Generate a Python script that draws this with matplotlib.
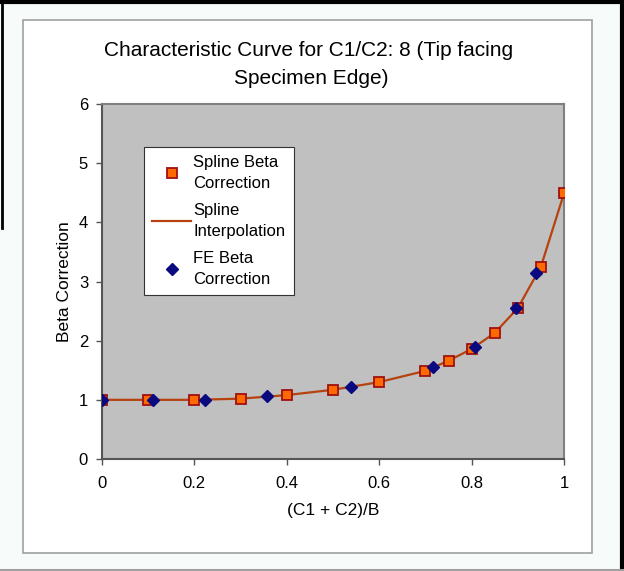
import matplotlib
matplotlib.use("Agg")
import matplotlib.pyplot as plt
from matplotlib.patches import Rectangle
from matplotlib.lines import Line2D

spline_x = [0, 0.1, 0.2, 0.3, 0.4, 0.5, 0.6, 0.7, 0.75, 0.8, 0.85, 0.9, 0.95, 1.0]
spline_y = [1.0, 1.0, 1.0, 1.02, 1.08, 1.17, 1.30, 1.49, 1.66, 1.86, 2.13, 2.55, 3.25, 4.49]
fe_x = [0, 0.11, 0.222, 0.358, 0.539, 0.717, 0.808, 0.897, 0.94]
fe_y = [1.0, 1.0, 1.0, 1.07, 1.21, 1.56, 1.90, 2.55, 3.14]
x_ticks = [0, 0.2, 0.4, 0.6, 0.8, 1]
x_tick_labels = ["0", "0.2", "0.4", "0.6", "0.8", "1"]
y_ticks = [0, 1, 2, 3, 4, 5, 6]

plt.rcParams['font.family'] = ['Liberation Sans', 'DejaVu Sans']

W, H = 624, 571
fig = plt.figure(figsize=(W / 100, H / 100), dpi=100)
fig.patch.set_facecolor('#F7FCFB')

# inner chart box
fig.patches.append(Rectangle((23 / W, 1 - 553 / H), (592 - 23) / W, (553 - 20) / H,
                             transform=fig.transFigure, facecolor='white',
                             edgecolor='#A0A0A0', linewidth=1.2, zorder=-5))
# outer frame
fig.lines.append(Line2D([0, 1], [1 - 1.5 / H, 1 - 1.5 / H], transform=fig.transFigure, color='black', lw=3))
fig.lines.append(Line2D([1 - 2 / W, 1 - 2 / W], [0, 1], transform=fig.transFigure, color='black', lw=3))
fig.lines.append(Line2D([1.5 / W, 1.5 / W], [0.6, 1], transform=fig.transFigure, color='black', lw=2))
fig.lines.append(Line2D([0, 1], [1 - 570 / H, 1 - 570 / H], transform=fig.transFigure, color='#A0A0A0', lw=1.5))

ax = fig.add_axes([102 / W, 1 - 459 / H, (564 - 102) / W, (459 - 104) / H])
ax.set_zorder(5)
ax.set_facecolor('#C0C0C0')

ax.plot(spline_x, spline_y, color='#B5420F', lw=1.6, zorder=2, label='Spline\nInterpolation')
ax.plot(spline_x, spline_y, ls='none', marker='s', markersize=7.5, markerfacecolor='#FF6A00',
        markeredgecolor='#A01010', markeredgewidth=1.3, zorder=3, label='Spline Beta\nCorrection')
ax.plot(fe_x, fe_y, ls='none', marker='D', markersize=6, markerfacecolor='#0A0A80',
        markeredgecolor='#0A0A80', zorder=4, label='FE Beta\nCorrection')

ax.set_xlim(0, 1)
ax.set_ylim(0, 6)
ax.set_xticks(x_ticks)
ax.set_xticklabels(x_tick_labels)
ax.set_yticks(y_ticks)
ax.tick_params(direction='out', length=4, width=1, color='#555555', labelsize=12)
ax.tick_params(axis='x', pad=8)
ax.tick_params(axis='y', pad=6)

for s in ['top', 'right']:
    ax.spines[s].set_color('#808080')
    ax.spines[s].set_linewidth(1.5)
for s in ['left', 'bottom']:
    ax.spines[s].set_color('#555555')
    ax.spines[s].set_linewidth(1.5)

ax.set_xlabel('(C1 + C2)/B', fontsize=12.5, labelpad=9)
ax.set_ylabel('Beta Correction', fontsize=12.5, labelpad=5)

fig.text(309 / W, 1 - 51 / H, 'Characteristic Curve for C1/C2: 8 (Tip facing',
         ha='center', va='center', fontsize=15)
fig.text(311 / W, 1 - 79 / H, 'Specimen Edge)', ha='center', va='center', fontsize=15)

handles, labels = ax.get_legend_handles_labels()
order = [1, 0, 2]
leg = ax.legend([handles[i] for i in order], [labels[i] for i in order],
                loc='upper left', bbox_to_anchor=(0.091, 0.879), borderaxespad=0,
                fontsize=12, frameon=True, fancybox=False, edgecolor='#333333',
                facecolor='white', framealpha=1,
                handlelength=2.3, handletextpad=0.15, labelspacing=0.7, borderpad=0.5)
leg.get_frame().set_linewidth(0.8)
for t in leg.get_texts():
    t.set_linespacing(1.5)

fig.savefig('out.png', dpi=100, facecolor=fig.get_facecolor())
